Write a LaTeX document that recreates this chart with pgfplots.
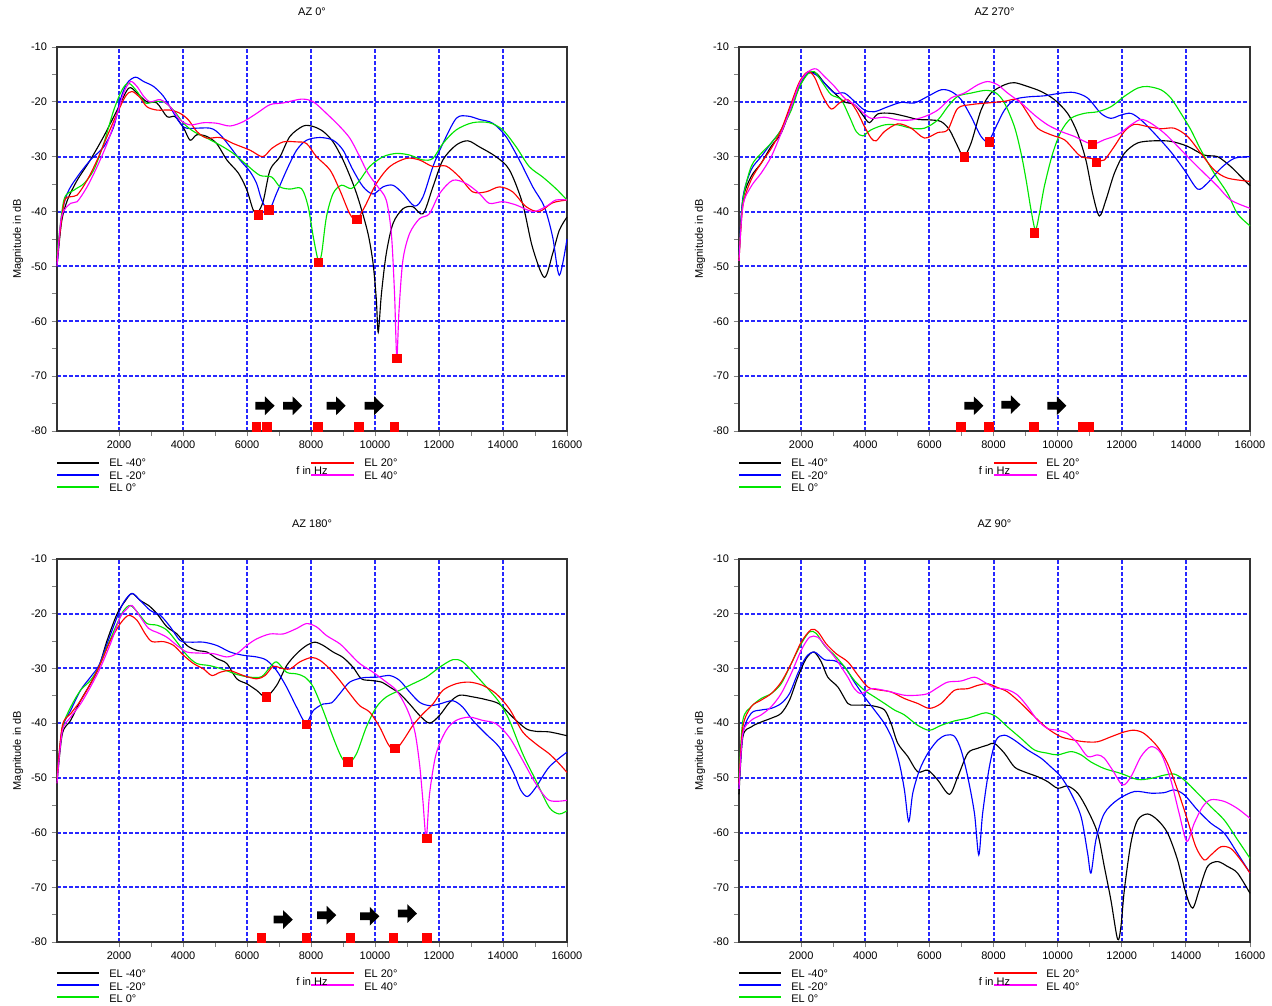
\documentclass[border=0pt]{standalone}
\usepackage{fontspec}
\setmainfont{Liberation Sans}
\usepackage{pgfplots}
\pgfplotsset{compat=1.18}
\definecolor{gridblue}{RGB}{40,40,255}
\definecolor{cblk}{RGB}{0,0,0}
\definecolor{cblu}{RGB}{0,0,255}
\definecolor{cgrn}{RGB}{0,230,0}
\definecolor{cred}{RGB}{255,0,0}
\definecolor{cmag}{RGB}{255,0,255}
\newcommand{\lf}{\fontsize{8.25}{9.5}\selectfont}
\pgfdeclareplotmark{barrow}{%
  \pgfpathmoveto{\pgfqpoint{-7.2pt}{2.9pt}}%
  \pgfpathlineto{\pgfqpoint{0pt}{2.9pt}}%
  \pgfpathlineto{\pgfqpoint{0pt}{7pt}}%
  \pgfpathlineto{\pgfqpoint{7.2pt}{0pt}}%
  \pgfpathlineto{\pgfqpoint{0pt}{-7pt}}%
  \pgfpathlineto{\pgfqpoint{0pt}{-2.9pt}}%
  \pgfpathlineto{\pgfqpoint{-7.2pt}{-2.9pt}}%
  \pgfpathclose\pgfusepathqfill}
\pgfplotsset{
  panel/.style={
    scale only axis, anchor=north west, clip=false,
    xmin=60, xmax=16000, ymin=-80, ymax=-10,
    scaled x ticks=false, scaled y ticks=false,
    xtick={2000,4000,6000,8000,10000,12000,14000,16000},
    xticklabels={2000,4000,6000,8000,10000,12000,14000,16000},
    minor x tick num=1,
    ytick={-80,-70,-60,-50,-40,-30,-20,-10},
    yticklabels={-80,-70,-60,-50,-40,-30,-20,-10},
    minor y tick num=1,
    tick pos=left, tick align=outside,
    major tick length=4pt, minor tick length=3.5pt,
    tick style={line width=0.6pt},
    xmajorgrids, ymajorgrids,
    major grid style={color=gridblue, dash pattern=on 3pt off 1.5pt, line width=1.5pt},
    axis line style={draw=black!80, line width=0.9pt},
    tick label style={font=\lf},
    ylabel={Magnitude in dB},
    ylabel style={at={(axis description cs:-0.0765,0.5)}, anchor=center, font=\lf},
    xlabel={f in Hz},
    xlabel style={at={(axis description cs:0.5,0)}, anchor=center, yshift=-29.6pt, font=\lf},
    title style={at={(axis description cs:0.5,1)}, anchor=center, yshift=20.25pt, font=\lf},
  },
  s1/.style={draw=cblk, line width=0.85pt, smooth, tension=0.5, no marks},
  s2/.style={draw=cblu, line width=0.85pt, smooth, tension=0.5, no marks},
  s3/.style={draw=cgrn, line width=0.85pt, smooth, tension=0.5, no marks},
  s4/.style={draw=cred, line width=0.85pt, smooth, tension=0.5, no marks},
  s5/.style={draw=cmag, line width=0.85pt, smooth, tension=0.5, no marks},
  lg/.style={line width=1.5pt, no marks, forget plot},
  sq/.style={only marks, mark=square*, mark size=3.2pt, color=cred, mark options={fill=cred, draw=none}},
  arr/.style={only marks, mark=barrow, color=black, mark options={fill=black, draw=none}},
}
% legend samples below the axis: #1,#2,#3 = the three row levels (axis units, outside the plotted range)
\newcommand{\legendlines}[3]{%
  \addplot[lg, draw=cblk] coordinates {(60,#1) (1370,#1)};
  \addplot[lg, draw=cblu] coordinates {(60,#2) (1370,#2)};
  \addplot[lg, draw=cgrn] coordinates {(60,#3) (1370,#3)};
  \addplot[lg, draw=cred] coordinates {(8011,#1) (9352,#1)};
  \addplot[lg, draw=cmag] coordinates {(8011,#2) (9352,#2)};
}
\newcommand{\panellegend}[1]{%
  \begin{scope}[shift={(#1.south west)}]
    \node[anchor=west, inner sep=0pt, font=\lf, text=black] at (39pt,-24pt) {EL -40°};
    \node[anchor=west, inner sep=0pt, font=\lf, text=black] at (39pt,-33.4pt) {EL -20°};
    \node[anchor=west, inner sep=0pt, font=\lf, text=black] at (39pt,-42.4pt) {EL 0°};
    \node[anchor=west, inner sep=0pt, font=\lf, text=black] at (230.25pt,-24pt) {EL 20°};
    \node[anchor=west, inner sep=0pt, font=\lf, text=black] at (230.25pt,-33.4pt) {EL 40°};
  \end{scope}}
\begin{document}
\begin{tikzpicture}
\path[use as bounding box] (0,0) rectangle (954pt,-754.5pt);
% ---------------- AZ 0 ----------------
\begin{axis}[panel, name=tl, at={(42.75pt,-35.25pt)}, width=382.5pt, height=288pt, title={AZ 0°}]
\addplot[s1] coordinates {(60,-50) (200,-42) (380,-38) (690,-34.3) (1100,-30.6) (1520,-26.3) (1940,-21.5) (2300,-17.5) (2560,-18.4) (2870,-20) (3180,-20.2) (3500,-22.7) (3750,-22.7) (4020,-24.8) (4220,-27) (4430,-26) (4740,-26.3) (5050,-27.6) (5370,-30.6) (5730,-33) (5990,-36) (6200,-39.8) (6350,-40) (6510,-38) (6720,-32.4) (7030,-30) (7340,-26.3) (7760,-24.4) (8070,-24.5) (8380,-25.4) (8690,-27.3) (9000,-30.6) (9310,-34.9) (9520,-38.5) (9780,-44) (9940,-49.5) (10040,-56) (10100,-62) (10200,-55) (10350,-47.7) (10560,-42.2) (10870,-39.5) (11180,-39.1) (11500,-40.4) (11810,-35.5) (12120,-30.6) (12530,-27.9) (12900,-27.1) (13260,-28.2) (13780,-30) (14200,-32.4) (14610,-38.5) (14920,-46.5) (15290,-52) (15550,-47.7) (15760,-43.4) (16000,-41)};
\addplot[s2] coordinates {(60,-50) (200,-41) (380,-36.7) (690,-33.7) (1105,-30.6) (1520,-28.2) (1835,-24.5) (2040,-19.6) (2250,-16.6) (2510,-15.5) (2770,-16.3) (3080,-17.2) (3390,-19) (3650,-21.5) (3910,-23.9) (4120,-24.8) (4850,-24.8) (5160,-26) (5470,-28.2) (5780,-30.6) (6090,-32.7) (6300,-34.9) (6460,-37.9) (6680,-39.8) (6920,-36.7) (7240,-32.4) (7550,-28.8) (7860,-27) (8280,-26.5) (8690,-27) (9000,-28.8) (9310,-32.4) (9630,-35.5) (9940,-36.8) (10250,-35.5) (10560,-35.2) (10870,-36.7) (11240,-39) (11500,-37.3) (11810,-31.8) (12120,-27.6) (12540,-23) (12900,-22.6) (13260,-23.2) (13680,-23.9) (14090,-26.3) (14510,-30.6) (14930,-35.5) (15290,-39.1) (15550,-44.6) (15760,-51.6) (16000,-45)};
\addplot[s3] coordinates {(60,-48) (275,-37.9) (590,-36.1) (900,-34.9) (1210,-32.4) (1520,-27.6) (1835,-21.5) (2095,-17.8) (2300,-16.6) (2560,-18.1) (2820,-20.2) (3080,-20) (3390,-20) (3700,-21.5) (4015,-23.9) (4330,-25.4) (4740,-26.6) (5160,-27.9) (5570,-29.4) (5990,-31.5) (6400,-33.4) (6770,-33.7) (7030,-35.5) (7340,-35.9) (7700,-35.8) (7910,-39.1) (8070,-44.6) (8230,-49) (8330,-47.7) (8480,-41) (8690,-36.7) (8950,-35.2) (9260,-35.8) (9520,-34.3) (9830,-31.8) (10250,-30) (10670,-29.4) (11080,-29.7) (11500,-30.6) (11810,-30.3) (12120,-27.6) (12540,-25.1) (13050,-23.8) (13570,-23.8) (13990,-25.1) (14410,-28.2) (14820,-31.8) (15240,-33.7) (15650,-35.8) (16000,-37.9)};
\addplot[s4] coordinates {(60,-49) (275,-38.5) (485,-37.3) (690,-37) (1000,-34.3) (1315,-30.6) (1625,-26.3) (1940,-22.1) (2200,-19) (2405,-18.1) (2665,-19.3) (2870,-20.9) (3185,-21.5) (3600,-21.5) (3910,-22.1) (4170,-23.3) (4430,-25.4) (4740,-26.6) (5160,-26.5) (5570,-27.6) (6090,-28.8) (6490,-30) (6770,-28.5) (7130,-27.3) (7550,-27.3) (7860,-27.6) (8170,-30) (8590,-32.4) (8900,-36.1) (9210,-40.4) (9420,-41.5) (9680,-39.1) (10040,-34.9) (10460,-31.8) (10980,-30.3) (11390,-30.6) (11810,-31.8) (12220,-31.7) (12640,-33.7) (13050,-36.4) (13470,-36.4) (13890,-35.5) (14300,-36.4) (14720,-39.1) (15130,-40) (15550,-38.4) (16000,-37.9)};
\addplot[s5] coordinates {(60,-50) (200,-41) (485,-38.5) (690,-38.2) (1000,-35.5) (1315,-31.8) (1625,-27.6) (1885,-23.3) (2145,-18.4) (2355,-16.3) (2560,-17.2) (2770,-19) (2975,-20) (3290,-19.6) (3600,-20.9) (3910,-23.3) (4225,-24.2) (4640,-23.8) (5055,-23.9) (5470,-24.4) (5885,-23.6) (6300,-22.1) (6720,-20.5) (7130,-20.2) (7700,-19.5) (8070,-20) (8480,-22.1) (8900,-24.5) (9210,-26.6) (9470,-29.4) (9780,-33) (10090,-35.5) (10350,-37.9) (10510,-44) (10610,-55) (10680,-66.6) (10750,-58) (10870,-48.9) (11080,-44) (11390,-41.3) (11700,-40.4) (12020,-36.7) (12430,-34.3) (12850,-34.9) (13260,-36.7) (13570,-38.5) (13990,-38.2) (14410,-38.8) (14930,-40) (15340,-39.1) (15650,-37.9) (16000,-37.9)};
\addplot[sq] coordinates {(6344,-40.6) (6687,-39.7) (8219,-49.2) (9437,-41.4) (10687,-66.7) (6289,-79.2) (6622,-79.2) (8218,-79.2) (9484,-79.2) (10604,-79.2)};
\addplot[arr] coordinates {(6560,-75.4) (7425,-75.4) (8784,-75.4) (9975,-75.4)};
\legendlines{-85.833}{-88.021}{-90.208}
\end{axis}
\panellegend{tl}
% ---------------- AZ 270 ----------------
\begin{axis}[panel, name=tr, at={(554.25pt,-35.25pt)}, width=383.25pt, height=288pt, title={AZ 270°}]
\addplot[s1] coordinates {(60,-48) (180,-37.9) (440,-33.6) (750,-31.2) (1065,-28.1) (1375,-25.7) (1690,-20.9) (1950,-17.2) (2210,-14.8) (2470,-14.8) (2730,-16.6) (3040,-18.4) (3350,-20) (3660,-20.5) (3920,-22.4) (4130,-23.8) (4390,-22.2) (4805,-22.1) (5220,-22.6) (5640,-23.2) (6050,-23.3) (6365,-23.6) (6625,-25.1) (6880,-28.1) (7070,-30) (7300,-27.5) (7610,-21.5) (7920,-18.4) (8340,-16.9) (8650,-16.5) (9065,-17.2) (9480,-18.1) (9900,-19.6) (10310,-22.1) (10620,-25.7) (10880,-30.6) (11090,-36.7) (11300,-40.8) (11505,-37.9) (11770,-33) (12080,-29.4) (12490,-27.5) (13010,-27.1) (13530,-27.2) (14050,-28.1) (14570,-29.7) (14990,-30) (15400,-31.8) (15710,-33.6) (16000,-35.3)};
\addplot[s2] coordinates {(60,-48) (180,-37.5) (440,-32.4) (750,-30) (1065,-27.5) (1375,-25.1) (1690,-20.9) (1950,-16.9) (2210,-14.7) (2470,-15.1) (2730,-16.6) (3040,-18.4) (3350,-18.4) (3660,-19.9) (3975,-21.5) (4285,-21.8) (4700,-20.9) (5115,-20.1) (5530,-20.2) (5950,-19) (6365,-17.8) (6675,-18.1) (6990,-19.6) (7300,-22.7) (7610,-26.3) (7840,-27.2) (8080,-24.5) (8340,-21.5) (8650,-19.6) (9065,-19.1) (9585,-18.9) (10105,-18.4) (10520,-18.3) (10935,-19.3) (11350,-22.1) (11660,-23) (11975,-22.4) (12285,-22.1) (12600,-23.3) (13010,-25.7) (13530,-29.1) (13950,-32.4) (14365,-35.9) (14675,-34.8) (15090,-32.1) (15510,-30.3) (16000,-30)};
\addplot[s3] coordinates {(60,-48.5) (180,-38) (440,-31.8) (750,-29.4) (1065,-27.5) (1375,-25.1) (1690,-21.5) (1950,-17.2) (2210,-14.9) (2415,-14.5) (2675,-16.6) (2935,-18.7) (3245,-19.6) (3505,-22.7) (3715,-25.4) (3920,-26.2) (4180,-25.1) (4600,-24.2) (5015,-24.2) (5430,-24.8) (5845,-24.8) (6260,-23.3) (6570,-20.9) (6880,-19) (7300,-18.4) (7765,-17.9) (8080,-18.4) (8340,-20.2) (8650,-24.5) (8860,-29.4) (9015,-34.2) (9170,-39.7) (9305,-43.3) (9430,-40.4) (9585,-35.4) (9845,-29.4) (10105,-25.4) (10415,-23) (10830,-22.1) (11245,-21.8) (11660,-20.9) (12080,-19) (12490,-17.5) (12800,-17.2) (13220,-17.8) (13530,-19.3) (13845,-22.1) (14155,-25.1) (14470,-28.8) (14880,-33) (15300,-36.7) (15610,-40.4) (16000,-42.6)};
\addplot[s4] coordinates {(60,-49) (180,-39) (440,-34.2) (750,-31.2) (1065,-28.5) (1375,-25.1) (1690,-20.2) (1950,-16.3) (2210,-14.5) (2415,-15.5) (2675,-19) (2935,-21.3) (3195,-20.2) (3455,-19.6) (3715,-21.5) (3975,-24.5) (4180,-26.6) (4340,-27.1) (4600,-25.4) (5015,-24) (5430,-24.8) (5845,-26.6) (6260,-25.6) (6570,-25.1) (6880,-21.2) (7300,-20.5) (7820,-20.2) (8340,-19.9) (8750,-19.6) (9065,-22.1) (9375,-24.8) (9790,-26) (10210,-26.9) (10520,-28.8) (10730,-30) (11040,-30.3) (11245,-30.6) (11455,-30.6) (11770,-28.1) (12080,-25.4) (12390,-24.1) (12800,-24.5) (13220,-24.9) (13635,-24.8) (14050,-26.3) (14470,-29.4) (14880,-32.4) (15300,-33.9) (16000,-34.5)};
\addplot[s5] coordinates {(60,-49) (180,-39) (440,-35.4) (750,-33) (1065,-30) (1375,-25.7) (1690,-20.9) (1950,-16.6) (2210,-14.5) (2470,-14) (2730,-15.4) (3040,-17.2) (3350,-19.3) (3660,-20.5) (3920,-21.9) (4180,-23) (4600,-22.8) (5015,-23.3) (5430,-23.3) (5845,-22.7) (6260,-21.5) (6675,-19.3) (7090,-18.4) (7505,-16.9) (7820,-16.3) (8130,-16.9) (8440,-18.4) (8860,-20.2) (9275,-22.4) (9690,-24.2) (10105,-25.4) (10520,-26.3) (11070,-27.7) (11455,-26.9) (11870,-26) (12285,-24.2) (12600,-23.2) (12910,-23.9) (13325,-25.7) (13740,-28.1) (14155,-30.6) (14570,-33) (14990,-35.4) (15400,-37.9) (16000,-39.4)};
\addplot[sq] coordinates {(7083,-30) (7862,-27.3) (9265,-43.9) (11074,-27.7) (11199,-31) (6984,-79.2) (7857,-79.2) (9259,-79.2) (10785,-79.2) (10972,-79.2)};
\addplot[arr] coordinates {(7386,-75.4) (8540,-75.2) (9975,-75.4)};
\legendlines{-85.833}{-88.021}{-90.208}
\end{axis}
\panellegend{tr}
% ---------------- AZ 180 ----------------
\begin{axis}[panel, name=bl, at={(42.75pt,-419.25pt)}, width=382.5pt, height=287.25pt, title={AZ 180°}]
\addplot[s1] coordinates {(60,-51) (225,-42) (485,-39.5) (795,-35.9) (1105,-32.8) (1365,-29.8) (1625,-24.9) (1940,-20) (2200,-17.6) (2405,-16.3) (2665,-17.6) (2925,-18.5) (3185,-20) (3495,-22.4) (3810,-23.7) (4120,-25.8) (4430,-26.7) (4745,-27) (5055,-28.2) (5365,-29.1) (5680,-31.9) (5990,-32.8) (6300,-34) (6590,-35.2) (6925,-33.1) (7235,-29.5) (7550,-27.3) (7860,-25.8) (8120,-25.2) (8380,-25.8) (8690,-27) (9000,-28) (9315,-29.8) (9575,-31.9) (9885,-32.2) (10200,-32.5) (10460,-33.4) (10770,-34.6) (11080,-36.5) (11395,-38.6) (11705,-40) (12015,-38.6) (12330,-36.2) (12640,-34.9) (13055,-35.2) (13470,-35.7) (13885,-36.5) (14300,-38.9) (14715,-41) (15030,-41.5) (15445,-41.6) (16000,-42.3)};
\addplot[s2] coordinates {(60,-50) (225,-41) (485,-37.7) (795,-34) (1105,-31.6) (1365,-29.5) (1625,-25.5) (1940,-20.6) (2145,-17.9) (2405,-16.3) (2665,-17.6) (2975,-19.4) (3290,-20.3) (3600,-22.4) (3910,-24.9) (4225,-25.2) (4640,-25.2) (5055,-25.8) (5470,-27) (5885,-27.6) (6300,-27.9) (6610,-28.5) (6925,-30.4) (7235,-33.4) (7550,-37.1) (7840,-40) (8070,-37.7) (8380,-36.5) (8640,-36.3) (8900,-34.6) (9210,-32.5) (9625,-31.7) (10040,-31.6) (10460,-31.3) (10770,-32.2) (11080,-34.3) (11395,-36.2) (11705,-36.8) (12015,-36.5) (12430,-35.9) (12745,-37.1) (13055,-39.5) (13470,-42) (13885,-44.4) (14300,-48.7) (14560,-52.3) (14770,-53.4) (15030,-51.7) (15445,-48) (16000,-45.3)};
\addplot[s3] coordinates {(60,-50) (225,-41) (485,-37.1) (795,-34) (1105,-32.2) (1365,-29.8) (1625,-26.1) (1940,-21.8) (2145,-19.4) (2355,-18.5) (2615,-20) (2875,-21.8) (3185,-22.1) (3495,-23) (3810,-25.2) (4120,-27.6) (4430,-29.1) (4845,-29.5) (5265,-30.2) (5680,-31.1) (6095,-31.6) (6455,-31.5) (6715,-29.8) (6925,-28.8) (7235,-30.7) (7550,-31) (7810,-31.6) (8070,-33.4) (8380,-37.7) (8690,-42.6) (8950,-46.2) (9160,-47.4) (9420,-45.6) (9730,-40.7) (10040,-37.1) (10355,-35.2) (10770,-34) (11185,-32.8) (11600,-31.6) (12015,-29.8) (12430,-28.4) (12745,-28.8) (13160,-31.3) (13575,-34) (13885,-36.2) (14200,-39.5) (14615,-45.6) (15030,-50.5) (15445,-55.4) (15755,-56.6) (16000,-56)};
\addplot[s4] coordinates {(60,-50) (225,-40.5) (485,-38.3) (795,-35.9) (1105,-32.8) (1420,-29.1) (1730,-24.9) (2040,-21.8) (2300,-20.3) (2560,-21.2) (2820,-23.7) (3030,-25.1) (3390,-25.1) (3705,-25.8) (4015,-27.6) (4325,-29.1) (4640,-30.1) (4900,-31.3) (5160,-30.7) (5470,-30.4) (5885,-31.3) (6300,-31.9) (6560,-31.3) (6820,-29.6) (7030,-29.9) (7340,-30.1) (7650,-28.8) (8015,-28) (8275,-28.5) (8590,-30.1) (8900,-32.2) (9210,-34.6) (9520,-36.8) (9835,-38) (10145,-40.7) (10405,-43.8) (10615,-45) (10875,-43.2) (11185,-40.4) (11495,-38.3) (11810,-36.5) (12120,-34) (12535,-32.8) (12950,-32.5) (13365,-33.1) (13780,-34.6) (14200,-37.4) (14615,-41.6) (15030,-43.8) (15445,-45.6) (15755,-47.4) (16000,-49)};
\addplot[s5] coordinates {(60,-51) (225,-41.5) (485,-38.9) (795,-36.5) (1105,-33.4) (1420,-29.8) (1730,-25.5) (2040,-20.6) (2250,-19.1) (2405,-18.5) (2665,-20.6) (2925,-22.7) (3185,-23.4) (3495,-24.3) (3810,-25.8) (4120,-27) (4535,-27.2) (4950,-27.3) (5365,-27.9) (5680,-27.3) (5990,-25.8) (6300,-24.6) (6715,-23.7) (7130,-23.7) (7550,-22.7) (7860,-21.8) (8170,-22.4) (8485,-24) (8900,-25.5) (9210,-27.3) (9520,-29.1) (9940,-30.7) (10355,-32.5) (10665,-34) (10975,-37.1) (11235,-41.3) (11390,-47.4) (11495,-54.1) (11600,-61) (11705,-52.9) (11910,-45.6) (12225,-41.3) (12535,-39.5) (12950,-38.9) (13365,-39.5) (13780,-40.1) (14200,-42.6) (14615,-46.8) (15030,-51.1) (15445,-54.1) (16000,-54.1)};
\addplot[sq] coordinates {(6594,-35.2) (7844,-40.2) (9156,-47.1) (10625,-44.6) (11625,-61) (6445,-79.2) (7855,-79.2) (9224,-79.2) (10571,-79.2) (11610,-79.2)};
\addplot[arr] coordinates {(7129,-75.9) (8488,-75.1) (9835,-75.3) (11011,-74.8)};
\legendlines{-85.666}{-87.859}{-90.052}
\end{axis}
\panellegend{bl}
% ---------------- AZ 90 ----------------
\begin{axis}[panel, name=br, at={(554.25pt,-419.25pt)}, width=383.25pt, height=287.25pt, title={AZ 90°}]
\addplot[s1] coordinates {(60,-53) (180,-42.5) (440,-40.7) (750,-39.8) (1065,-39.1) (1375,-38.2) (1635,-35.8) (1895,-31.6) (2155,-28.2) (2395,-27) (2625,-28.8) (2830,-31.6) (3145,-33.4) (3455,-36.4) (3660,-36.7) (3975,-36.7) (4285,-36.9) (4600,-37.6) (4805,-40.1) (5015,-43.7) (5325,-46.1) (5635,-48.9) (5950,-48.6) (6260,-50.4) (6625,-53) (6885,-49.8) (7195,-45.5) (7505,-44.6) (7820,-44) (8025,-43.7) (8340,-45.5) (8650,-48) (8960,-48.9) (9380,-49.8) (9690,-50.7) (10000,-51.9) (10310,-51.5) (10625,-52.8) (10935,-55.9) (11245,-60.1) (11455,-66.2) (11660,-72.3) (11870,-79.5) (11975,-77.1) (12080,-70.5) (12285,-61.9) (12495,-57.7) (12805,-56.6) (13115,-57.7) (13430,-60.1) (13740,-65) (14000,-71.1) (14210,-73.8) (14415,-70.5) (14675,-66.2) (14990,-65.3) (15300,-66.2) (15610,-67.4) (16000,-71.1)};
\addplot[s2] coordinates {(60,-52) (180,-41.9) (440,-38.2) (750,-37.6) (1065,-37.3) (1375,-36.4) (1635,-34.6) (1895,-30.9) (2155,-27.9) (2415,-27) (2725,-28.4) (3040,-28.6) (3350,-29.7) (3660,-32.5) (3975,-35.2) (4285,-37.6) (4600,-40.1) (4855,-43.1) (5065,-47.4) (5220,-52.2) (5355,-58) (5480,-52.8) (5690,-48.6) (5950,-45.5) (6260,-43.1) (6520,-42.2) (6780,-42.4) (6985,-44.9) (7195,-49.8) (7405,-56.5) (7540,-64.1) (7660,-56.5) (7870,-48) (8080,-43.1) (8340,-42.2) (8650,-43.1) (9065,-44.9) (9480,-46.4) (9790,-48) (10105,-49.8) (10415,-52.8) (10730,-57.1) (10935,-63.8) (11040,-67.4) (11195,-61.3) (11455,-56.5) (11870,-54) (12390,-52.5) (12910,-52.8) (13325,-52.7) (13635,-52.2) (13950,-53.1) (14365,-55.9) (14780,-58.3) (15195,-60.1) (15610,-63.8) (16000,-67.4)};
\addplot[s3] coordinates {(60,-50) (180,-39.5) (440,-37) (750,-35.5) (1065,-34.6) (1375,-32.8) (1690,-29.1) (2000,-25.5) (2260,-23.3) (2470,-23.6) (2725,-25.8) (3040,-27.6) (3350,-29.7) (3660,-32.2) (3975,-34) (4285,-35.2) (4600,-36.4) (4910,-37.6) (5220,-38.5) (5635,-40.4) (6000,-41.3) (6365,-40.4) (6780,-39.6) (7195,-39.1) (7505,-38.5) (7765,-38.1) (8080,-38.8) (8440,-40.7) (8860,-42.8) (9275,-44.9) (9690,-45.5) (10000,-45.8) (10415,-45.2) (10730,-45.8) (11040,-47.1) (11455,-48.3) (11975,-49.2) (12495,-50.3) (12910,-50.1) (13325,-49.5) (13635,-49.3) (13950,-50.4) (14365,-52.8) (14780,-55.3) (15195,-57.7) (15610,-61.3) (16000,-64.7)};
\addplot[s4] coordinates {(60,-51) (180,-40.7) (440,-37) (750,-35.8) (1065,-34.6) (1375,-32.5) (1690,-29.1) (2000,-25.2) (2310,-22.9) (2520,-23.3) (2780,-25.5) (3090,-27.3) (3455,-28.8) (3765,-31.2) (4080,-33.4) (4390,-33.9) (4805,-34.3) (5220,-35.5) (5635,-36.4) (6000,-37.3) (6365,-36.4) (6780,-34) (7195,-33.7) (7505,-33.1) (7820,-32.8) (8130,-33.5) (8440,-34.3) (8860,-36.4) (9275,-38.8) (9690,-41) (10105,-42.5) (10520,-43.1) (10830,-43.4) (11245,-43.4) (11660,-42.5) (12080,-41.6) (12390,-41.3) (12700,-41.9) (13115,-44.3) (13430,-47.4) (13740,-52.2) (14050,-57.7) (14310,-62.6) (14570,-65) (14780,-64.1) (15090,-62.6) (15400,-62.9) (15710,-65) (16000,-67.4)};
\addplot[s5] coordinates {(60,-52) (180,-41.9) (440,-39.5) (750,-38.5) (1065,-37) (1375,-34.6) (1690,-30.9) (2000,-26.7) (2260,-24.3) (2520,-24.3) (2780,-26.1) (3040,-27.9) (3245,-29.7) (3455,-31.6) (3660,-33.7) (3870,-34.6) (4180,-33.7) (4495,-33.9) (4805,-34.3) (5220,-34.9) (5635,-34.9) (5950,-34.6) (6260,-33.5) (6570,-32.5) (6985,-32.3) (7405,-31.6) (7715,-32.5) (8025,-33.5) (8440,-33.9) (8755,-34.9) (9065,-37) (9375,-39.5) (9690,-41) (10000,-41.3) (10310,-41.9) (10625,-43.7) (10935,-46.1) (11245,-45.8) (11455,-46.4) (11715,-48.6) (12025,-51.3) (12285,-49.8) (12600,-46.1) (12910,-44.3) (13220,-45.5) (13530,-50.4) (13790,-56.5) (14030,-61.6) (14260,-58.3) (14520,-55.3) (14780,-54) (15195,-54.3) (15610,-55.6) (16000,-57.4)};
\legendlines{-85.666}{-87.859}{-90.052}
\end{axis}
\panellegend{br}
\end{tikzpicture}
\end{document}
